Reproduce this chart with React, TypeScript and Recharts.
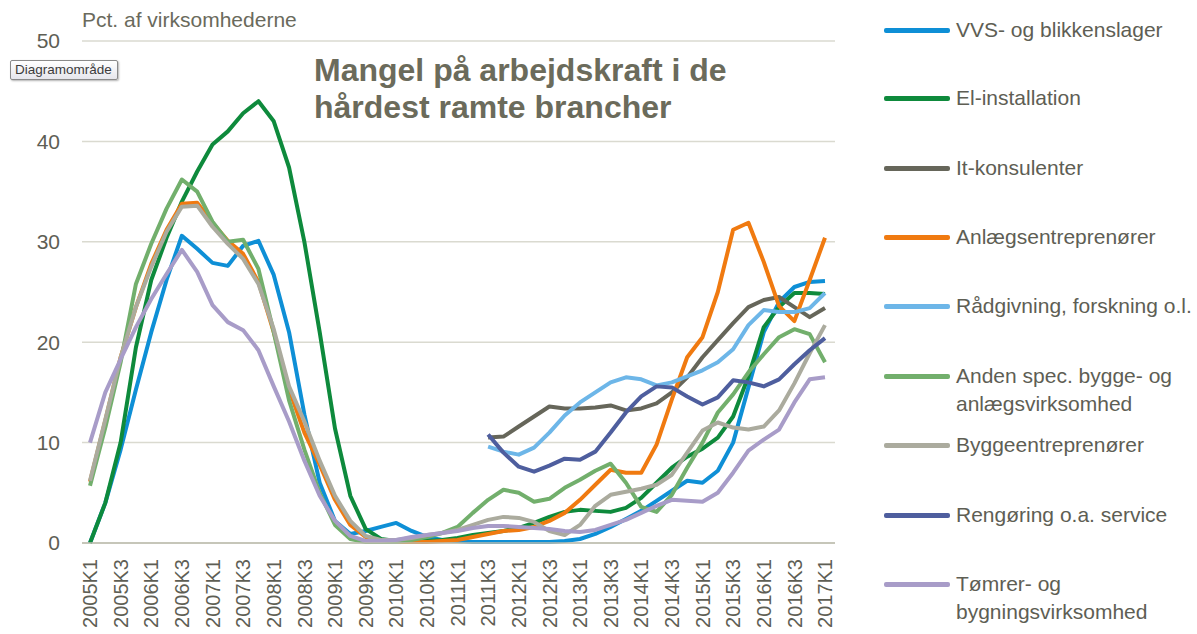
import React from "react";
import { LineChart, Line, XAxis, YAxis, CartesianGrid } from "recharts";

const QUARTERS = [
  "2005K1", "2005K2", "2005K3", "2005K4", "2006K1", "2006K2", "2006K3", "2006K4",
  "2007K1", "2007K2", "2007K3", "2007K4", "2008K1", "2008K2", "2008K3", "2008K4",
  "2009K1", "2009K2", "2009K3", "2009K4", "2010K1", "2010K2", "2010K3", "2010K4",
  "2011K1", "2011K2", "2011K3", "2011K4", "2012K1", "2012K2", "2012K3", "2012K4",
  "2013K1", "2013K2", "2013K3", "2013K4", "2014K1", "2014K2", "2014K3", "2014K4",
  "2015K1", "2015K2", "2015K3", "2015K4", "2016K1", "2016K2", "2016K3", "2016K4",
  "2017K1",
];

const Y_TICKS = [0, 10, 20, 30, 40, 50];

const N = null;

const VVS = [
  0, 4, 9.3, 15.3, 21, 26.2, 30.6, 29.3, 27.9, 27.6, 29.6, 30.1, 26.7, 21, 12.8, 6,
  2.2, 0.9, 1.2, 1.6, 2.0, 1.2, 0.6, 0.3, 0.2, 0.1, 0.1, 0.1, 0.1, 0.1, 0.1, 0.2,
  0.4, 0.9, 1.6, 2.4, 3.2, 4.2, 5.2, 6.2, 6.0, 7.2, 10, 15.5, 21, 24, 25.5, 26, 26.1,
];
const EL = [
  0, 4, 10, 19.5, 26.2, 30.4, 34, 37, 39.7, 41, 42.8, 44, 42, 37.4, 30, 21,
  11.4, 4.7, 1.4, 0.4, 0.2, 0.2, 0.2, 0.3, 0.5, 0.8, 1.0, 1.2, 1.5, 2.0, 2.6, 3.1,
  3.3, 3.2, 3.1, 3.5, 4.5, 6, 7.5, 8.6, 9.4, 10.5, 12.6, 16.6, 21.5, 23.5, 24.9, 24.9, 24.8,
];
const IT = [
  N, N, N, N, N, N, N, N, N, N, N, N, N, N, N, N,
  N, N, N, N, N, N, N, N, N, N, 10.5, 10.6, 11.6, 12.6, 13.6, 13.4,
  13.4, 13.5, 13.7, 13.2, 13.4, 13.9, 15, 16.5, 18.5, 20.2, 21.9, 23.5, 24.2, 24.5, 23.5, 22.5, 23.4,
];
const ANLAEG = [
  6.1, 12.2, 18.5, 23.5, 27.8, 31.2, 33.8, 33.9, 31.9, 30.1, 28.8, 26, 21, 15.3, 11, 7.8,
  4.3, 1.8, 0.6, 0.2, 0.1, 0.1, 0.1, 0.2, 0.3, 0.6, 0.9, 1.2, 1.3, 1.6, 2.2, 3.0,
  4.3, 5.8, 7.3, 7.0, 7.0, 9.8, 14.3, 18.5, 20.5, 25, 31.2, 31.9, 28, 23.6, 22.1, 26.2, 30.4,
];
const RAAD = [
  N, N, N, N, N, N, N, N, N, N, N, N, N, N, N, N,
  N, N, N, N, N, N, N, N, N, N, 9.6, 9.1, 8.8, 9.5, 11, 12.7,
  14, 15, 16, 16.5, 16.3, 15.7, 16, 16.6, 17.2, 18, 19.3, 21.7, 23.2, 23, 23, 23.4, 24.9,
];
const ANDEN = [
  5.7, 11.5, 18, 25.8, 29.8, 33.3, 36.2, 35, 32, 30, 30.2, 27.3, 21, 14.2, 9.3, 5,
  1.8, 0.4, 0.1, 0.1, 0.1, 0.3, 0.6, 1.0, 1.6, 3.0, 4.3, 5.3, 5.0, 4.1, 4.4, 5.5,
  6.3, 7.2, 7.9, 6.0, 3.6, 3.1, 4.8, 7.5, 10, 13, 14.8, 17, 18.8, 20.5, 21.3, 20.8, 18,
];
const BYGGE = [
  6.2, 12.3, 18.5, 23.5, 27.5, 31, 33.5, 33.6, 31.5, 29.8, 28.3, 25.8, 21.3, 15.6, 12.1, 8.2,
  4.7, 2.2, 0.7, 0.3, 0.3, 0.5, 0.8, 1.0, 1.3, 1.8, 2.3, 2.6, 2.5, 2.1, 1.2, 0.8,
  1.8, 3.7, 4.8, 5.1, 5.4, 5.8, 6.8, 9.0, 11.2, 12, 11.5, 11.3, 11.6, 13.2, 15.9, 18.9, 21.7,
];
const RENG = [
  N, N, N, N, N, N, N, N, N, N, N, N, N, N, N, N,
  N, N, N, N, N, N, N, N, N, N, 10.8, 9, 7.6, 7.1, 7.7, 8.4,
  8.3, 9.1, 11, 13, 14.6, 15.6, 15.5, 14.6, 13.8, 14.5, 16.2, 16, 15.6, 16.3, 17.8, 19.2, 20.4,
];
const TOMRER = [
  10, 15, 18.3, 21.5, 24.3, 26.8, 29.2, 27, 23.7, 22, 21.2, 19.2, 15.6, 12.1, 8.2, 4.7,
  2.2, 0.7, 0.2, 0.2, 0.3, 0.6, 0.8, 1.0, 1.2, 1.5, 1.7, 1.7, 1.6, 1.5, 1.4, 1.2,
  1.1, 1.3, 1.8, 2.3, 3.0, 3.7, 4.3, 4.2, 4.1, 5.0, 7, 9.2, 10.3, 11.3, 14, 16.3, 16.5,
];

const SERIES = [
  { key: "vvs", name: "VVS- og blikkenslager", values: VVS, color: "#0E8FD6", ly: 30 },
  { key: "el", name: "El-installation", values: EL, color: "#0E8A3C", ly: 98 },
  { key: "it", name: "It-konsulenter", values: IT, color: "#66665A", ly: 168 },
  { key: "anlaeg", name: "Anlægsentreprenører", values: ANLAEG, color: "#F07A10", ly: 237 },
  { key: "raad", name: "Rådgivning, forskning o.l.", values: RAAD, color: "#6DB6E8", ly: 306 },
  { key: "anden", name: "Anden spec. bygge- og\nanlægsvirksomhed", values: ANDEN, color: "#72AF6C", ly: 376 },
  { key: "bygge", name: "Byggeentreprenører", values: BYGGE, color: "#ABAB9E", ly: 445 },
  { key: "reng", name: "Rengøring o.a. service", values: RENG, color: "#4E5E9E", ly: 515 },
  { key: "tomrer", name: "Tømrer- og\nbygningsvirksomhed", values: TOMRER, color: "#A89CC8", ly: 584 },
];

const data = QUARTERS.map((q, i) => {
  const row: Record<string, string | number | null> = { q };
  SERIES.forEach((s) => {
    row[s.key] = s.values[i];
  });
  return row;
});

const FONT = '"Liberation Sans", Arial, sans-serif';
const TEXT = "#5E5E54";

function QuarterTick(props: any) {
  const { x, y, payload } = props;
  return (
    <text
      x={x}
      y={y}
      transform={`rotate(-90 ${x} ${y})`}
      textAnchor="end"
      dy="0.36em"
      fontSize={20}
      fontFamily={FONT}
      fill={TEXT}
    >
      {payload.value}
    </text>
  );
}

export default function App() {
  return (
    <div
      style={{
        position: "absolute",
        left: 0,
        top: 0,
        width: 1197,
        height: 634,
        background: "#fff",
        fontFamily: FONT,
      }}
    >
      <LineChart
        width={1197}
        height={634}
        data={data}
        margin={{ top: 41, right: 362, bottom: 6, left: 12 }}
      >
        <CartesianGrid vertical={false} stroke="#DADAD0" strokeWidth={1.5} />
        <XAxis
          dataKey="q"
          interval={1}
          height={85}
          tickLine={false}
          tickSize={0}
          tickMargin={16}
          axisLine={{ stroke: "#BDBDAE", strokeWidth: 1.5 }}
          padding={{ left: 8, right: 10 }}
          tick={<QuarterTick />}
        />
        <YAxis
          domain={[0, 50]}
          ticks={Y_TICKS}
          width={70}
          axisLine={false}
          tickLine={false}
          tickSize={0}
          tickMargin={22}
          tick={{ fontSize: 21, fill: TEXT, fontFamily: FONT }}
        />
        {SERIES.map((s) => (
          <Line
            key={s.key}
            dataKey={s.key}
            name={s.name}
            type="linear"
            stroke={s.color}
            strokeWidth={4}
            dot={false}
            activeDot={false}
            strokeLinejoin="round"
            isAnimationActive={false}
          />
        ))}
      </LineChart>

      <div style={{ position: "absolute", left: 82, top: 8, fontSize: 21, color: "#6A6A5C", whiteSpace: "nowrap" }}>
        Pct. af virksomhederne
      </div>

      <div
        style={{
          position: "absolute",
          left: 314,
          top: 52,
          fontSize: 32,
          fontWeight: "bold",
          lineHeight: "37px",
          color: "#6B6B5B",
          whiteSpace: "nowrap",
        }}
      >
        Mangel på arbejdskraft i de
        <br />
        hårdest ramte brancher
      </div>

      <div
        style={{
          position: "absolute",
          left: 10,
          top: 60,
          width: 98,
          height: 18,
          padding: "0 4px",
          fontSize: 13.5,
          lineHeight: "18px",
          color: "#3c3c3c",
          background: "linear-gradient(#ffffff, #e6e6ec)",
          border: "1px solid #8a8a8a",
          borderRadius: 2,
          boxShadow: "1px 1px 2px rgba(0,0,0,0.3)",
          whiteSpace: "nowrap",
        }}
      >
        Diagramområde
      </div>

      {SERIES.map((s) => (
        <div key={s.key}>
          <div
            style={{
              position: "absolute",
              left: 884,
              top: s.ly - 2,
              width: 66,
              height: 4.5,
              borderRadius: 2,
              background: s.color,
            }}
          />
          <div
            style={{
              position: "absolute",
              left: 956,
              top: s.ly - 14,
              fontSize: 21,
              lineHeight: "28px",
              color: TEXT,
              whiteSpace: "pre",
            }}
          >
            {s.name}
          </div>
        </div>
      ))}
    </div>
  );
}
